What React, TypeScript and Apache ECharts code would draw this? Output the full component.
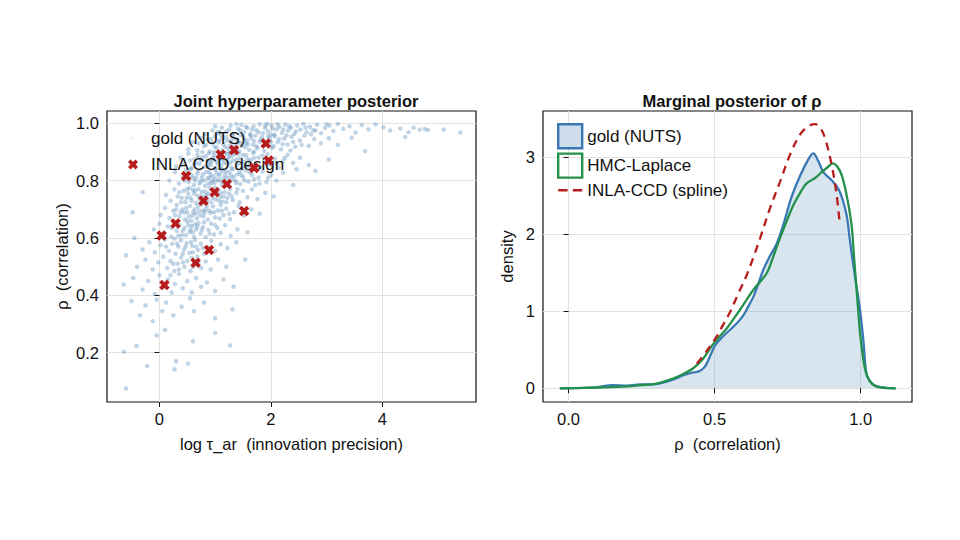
import React, { useEffect, useRef } from "react";
import * as echarts from "echarts";

// Posterior draws of (log tau_ar, rho) from the NUTS reference run
const goldDraws: [number, number][] = [
  // rho near the upper boundary, long tail in log tau
  [0.82,0.962],[0.95,0.975],[1.05,0.968],[1.12,0.985],[1.2,0.971],[1.28,0.992],[1.33,0.964],[1.41,0.981],[1.47,0.995],[1.52,0.969],
  [1.58,0.984],[1.63,0.962],[1.69,0.99],[1.74,0.976],[1.8,0.997],[1.86,0.965],[1.9,0.983],[1.95,0.972],[2.01,0.993],[2.06,0.961],
  [2.1,0.979],[2.15,0.988],[2.2,0.967],[2.26,0.996],[2.31,0.975],[2.36,0.985],[2.42,0.963],[2.47,0.992],[2.53,0.978],[2.58,0.998],
  [2.64,0.969],[2.7,0.987],[2.76,0.976],[2.83,0.995],[2.9,0.966],[2.97,0.984],[3.05,0.992],[3.12,0.973],[3.2,0.998],[3.3,0.981],
  [3.41,0.99],[3.52,0.968],[3.63,0.994],[3.75,0.979],[3.88,0.996],[4.02,0.986],[4.14,0.975],[4.32,0.982],[4.41,0.952],[4.47,0.969],
  [4.56,0.985],[4.67,0.978],[4.76,0.98],[4.82,0.977],[5.1,0.978],[5.4,0.968],[1.0,0.99],[1.38,0.998],[1.66,0.978],[2.12,0.997],
  [2.45,0.972],[1.9,0.992],[2.72,0.962],[3.0,0.997],
  [1.08,0.97],[1.25,0.978],[1.55,0.988],[1.78,0.968],[2.03,0.982],[2.33,0.99],[2.62,0.985],[1.45,0.975],[1.93,0.998],[2.22,0.979],
  [2.8,0.975],
  // rho 0.90 - 0.96
  [0.52,0.91],[0.6,0.935],[0.68,0.905],[0.74,0.95],[0.8,0.92],[0.86,0.943],[0.9,0.902],[0.95,0.93],[1.0,0.955],[1.03,0.915],
  [1.08,0.94],[1.12,0.905],[1.15,0.927],[1.2,0.952],[1.24,0.912],[1.28,0.938],[1.31,0.958],[1.35,0.921],[1.39,0.945],[1.43,0.903],
  [1.46,0.932],[1.5,0.955],[1.54,0.917],[1.57,0.94],[1.61,0.908],[1.65,0.948],[1.68,0.925],[1.72,0.957],[1.76,0.913],[1.8,0.936],
  [1.84,0.951],[1.88,0.904],[1.92,0.929],[1.97,0.946],[2.02,0.915],[2.07,0.955],[2.12,0.934],[2.18,0.909],[2.24,0.947],[2.3,0.926],
  [2.37,0.953],[2.44,0.918],[2.52,0.94],[2.6,0.957],[2.68,0.922],[2.78,0.945],[2.9,0.93],[3.04,0.948],[3.2,0.925],[3.45,0.95],
  [3.69,0.903],[1.1,0.96],[1.45,0.96],[1.7,0.902],[2.0,0.96],[1.26,0.9],[0.98,0.9],[2.35,0.905],[1.55,0.93],
  [0.7,0.93],[0.77,0.9],[0.84,0.925],[0.93,0.945],[0.99,0.918],[1.06,0.933],[1.13,0.948],[1.18,0.918],[1.22,0.94],[1.27,0.925],
  [1.33,0.947],[1.37,0.91],[1.41,0.932],[1.48,0.922],[1.52,0.945],[1.59,0.927],[1.63,0.958],[1.7,0.938],[1.74,0.92],[1.82,0.943],
  [1.86,0.922],[1.95,0.956],[2.0,0.935],[2.05,0.92],[2.15,0.945],[2.21,0.928],[2.28,0.958],[2.4,0.935],[2.55,0.925],
  // rho 0.84 - 0.90
  [0.3,0.85],[0.38,0.88],[0.45,0.86],[0.52,0.895],[0.58,0.845],[0.63,0.875],[0.68,0.89],[0.72,0.858],[0.77,0.882],[0.81,0.848],
  [0.85,0.87],[0.89,0.895],[0.92,0.855],[0.96,0.878],[1.0,0.843],[1.03,0.866],[1.07,0.89],[1.1,0.852],[1.14,0.874],[1.18,0.897],
  [1.21,0.86],[1.25,0.883],[1.29,0.845],[1.32,0.869],[1.36,0.892],[1.4,0.856],[1.44,0.878],[1.48,0.842],[1.52,0.865],[1.56,0.888],
  [1.6,0.851],[1.64,0.873],[1.68,0.896],[1.73,0.858],[1.78,0.881],[1.83,0.847],[1.88,0.87],[1.94,0.892],[2.0,0.855],[2.07,0.877],
  [2.14,0.846],[2.22,0.869],[2.3,0.89],[2.4,0.862],[2.52,0.88],[2.68,0.855],[2.8,0.834],[3.04,0.874],[2.46,0.84],[0.9,0.865],
  [1.12,0.84],[1.34,0.9],[1.58,0.875],[0.75,0.87],[1.22,0.875],[0.62,0.858],[1.95,0.86],[1.42,0.895],
  [0.55,0.87],[0.66,0.862],[0.7,0.88],[0.83,0.885],[0.87,0.852],[0.98,0.888],[1.05,0.858],[1.16,0.862],[1.23,0.893],[1.27,0.862],
  [1.38,0.872],[1.46,0.86],[1.5,0.89],[1.62,0.863],[1.7,0.88],[1.76,0.845],[1.85,0.888],[1.98,0.872],[2.1,0.86],[2.25,0.88],
  [0.94,0.868],[1.08,0.876],[1.3,0.885],[1.54,0.85],
  // rho 0.78 - 0.84
  [0.18,0.8],[0.28,0.83],[0.35,0.79],[0.42,0.815],[0.48,0.838],[0.53,0.795],[0.58,0.82],[0.62,0.785],[0.66,0.81],[0.7,0.835],
  [0.74,0.798],[0.78,0.822],[0.82,0.782],[0.86,0.808],[0.9,0.83],[0.93,0.792],[0.97,0.815],[1.01,0.838],[1.05,0.8],[1.09,0.825],
  [1.12,0.785],[1.16,0.81],[1.2,0.833],[1.24,0.795],[1.28,0.818],[1.32,0.84],[1.36,0.8],[1.4,0.823],[1.45,0.788],[1.5,0.812],
  [1.55,0.835],[1.6,0.797],[1.66,0.82],[1.72,0.785],[1.78,0.81],[1.85,0.832],[1.92,0.795],[2.0,0.82],[2.1,0.8],[2.22,0.828],
  [2.4,0.785],[0.56,0.84],[0.88,0.79],[1.14,0.835],[1.44,0.83],[0.76,0.81],[1.0,0.805],[1.3,0.805],[0.64,0.8],[1.07,0.815],
  [0.95,0.8],
  [0.45,0.8],[0.5,0.825],[0.6,0.81],[0.68,0.825],[0.72,0.79],[0.8,0.8],[0.84,0.83],[0.92,0.82],[0.99,0.792],[1.03,0.825],
  [1.1,0.8],[1.18,0.822],[1.22,0.81],[1.26,0.83],[1.34,0.815],[1.38,0.792],[1.47,0.82],[1.53,0.8],[1.62,0.83],[1.7,0.805],
  [1.8,0.79],[1.95,0.81],[0.9,0.81],[1.15,0.795],
  // rho 0.72 - 0.78
  [0.12,0.75],[0.2,0.73],[0.27,0.77],[0.33,0.745],[0.39,0.725],[0.44,0.765],[0.49,0.74],[0.54,0.775],[0.58,0.73],[0.62,0.755],
  [0.66,0.722],[0.7,0.77],[0.74,0.745],[0.78,0.728],[0.82,0.762],[0.86,0.738],[0.9,0.775],[0.93,0.725],[0.97,0.752],[1.01,0.735],
  [1.05,0.77],[1.09,0.744],[1.13,0.727],[1.17,0.76],[1.22,0.74],[1.27,0.772],[1.32,0.732],[1.38,0.757],[1.44,0.725],[1.5,0.765],
  [1.58,0.742],[1.66,0.77],[1.76,0.735],[1.9,0.758],[2.05,0.745],[0.47,0.725],[0.68,0.748],[0.88,0.755],[1.0,0.775],[1.2,0.725],
  [0.6,0.768],[0.8,0.742],[1.1,0.758],[0.36,0.76],[-0.3,0.76],
  [0.4,0.74],[0.52,0.755],[0.56,0.74],[0.64,0.765],[0.72,0.735],[0.76,0.76],[0.84,0.75],[0.95,0.74],[1.03,0.755],[1.07,0.73],
  [1.15,0.745],[1.25,0.755],[1.3,0.745],[1.4,0.77],[0.5,0.77],[0.85,0.728],
  // rho 0.66 - 0.72
  [0.02,0.68],[0.1,0.705],[0.18,0.67],[0.25,0.695],[0.31,0.715],[0.36,0.675],[0.41,0.7],[0.46,0.665],[0.5,0.69],[0.55,0.712],
  [0.59,0.678],[0.63,0.7],[0.67,0.668],[0.71,0.695],[0.75,0.717],[0.79,0.675],[0.83,0.7],[0.87,0.664],[0.92,0.688],[0.96,0.71],
  [1.0,0.672],[1.05,0.696],[1.1,0.715],[1.15,0.68],[1.2,0.702],[1.27,0.666],[1.34,0.69],[1.42,0.712],[1.52,0.678],[1.65,0.7],
  [1.8,0.685],[0.44,0.69],[0.65,0.685],[0.85,0.712],[0.57,0.66],[0.78,0.695],[0.28,0.68],[1.08,0.668],[-0.48,0.69],
  [0.3,0.7],[0.38,0.69],[0.48,0.705],[0.53,0.675],[0.61,0.69],[0.69,0.71],[0.73,0.68],[0.81,0.688],[0.89,0.695],[0.98,0.69],
  [1.12,0.695],[1.25,0.685],
  // rho 0.60 - 0.66
  [-0.1,0.63],[0.0,0.65],[0.08,0.615],[0.15,0.64],[0.21,0.605],[0.26,0.655],[0.31,0.625],[0.36,0.645],[0.4,0.61],[0.45,0.635],
  [0.5,0.658],[0.54,0.62],[0.58,0.642],[0.62,0.605],[0.66,0.63],[0.7,0.652],[0.74,0.615],[0.78,0.638],[0.83,0.603],[0.88,0.628],
  [0.93,0.65],[0.98,0.612],[1.04,0.635],[1.1,0.618],[1.18,0.645],[1.28,0.608],[1.4,0.63],[1.58,0.62],[0.47,0.61],[0.64,0.648],
  [0.34,0.608],[0.8,0.655],[0.56,0.63],[-0.45,0.6],
  [0.22,0.635],[0.33,0.64],[0.42,0.625],[0.52,0.645],[0.6,0.62],[0.68,0.64],[0.76,0.628],[0.9,0.615],[1.0,0.645],
  // rho 0.54 - 0.60
  [-0.3,0.56],[-0.18,0.585],[-0.08,0.55],[0.02,0.575],[0.1,0.595],[0.17,0.555],[0.23,0.58],[0.29,0.545],[0.34,0.57],[0.39,0.592],
  [0.44,0.56],[0.49,0.582],[0.54,0.548],[0.59,0.572],[0.64,0.594],[0.69,0.558],[0.74,0.58],[0.8,0.545],[0.86,0.568],[0.93,0.59],
  [1.0,0.555],[1.1,0.578],[1.22,0.565],[1.38,0.585],[0.42,0.545],[0.6,0.55],[0.27,0.598],[-0.6,0.54],
  [0.12,0.57],[0.32,0.58],[0.47,0.57],[0.57,0.585],[0.66,0.57],[0.78,0.565],
  // rho 0.48 - 0.54
  [-0.4,0.5],[-0.25,0.525],[-0.12,0.49],[-0.02,0.515],[0.07,0.535],[0.14,0.495],[0.2,0.52],[0.27,0.485],[0.33,0.51],[0.39,0.532],
  [0.45,0.5],[0.5,0.52],[0.56,0.485],[0.62,0.51],[0.68,0.535],[0.75,0.495],[0.83,0.518],[0.92,0.49],[1.05,0.525],[1.2,0.5],
  [1.54,0.525],[0.35,0.49],[0.58,0.53],[0.25,0.51],[0.42,0.515],[0.6,0.5],[0.7,0.515],
  // rho 0.40 - 0.48
  [-0.64,0.438],[-0.47,0.46],[-0.3,0.42],[-0.2,0.45],[-0.08,0.405],[0.0,0.47],[0.08,0.43],[0.15,0.455],[0.22,0.41],[0.28,0.44],
  [0.35,0.475],[0.42,0.425],[0.5,0.45],[0.58,0.41],[0.66,0.46],[0.75,0.43],[0.85,0.445],[1.0,0.415],[1.15,0.455],[1.33,0.43],
  [0.2,0.47],
  // rho 0.30 - 0.40
  [-0.5,0.38],[-0.35,0.33],[-0.25,0.365],[-0.12,0.31],[-0.05,0.385],[0.05,0.345],[0.12,0.375],[0.25,0.33],[0.4,0.36],[0.55,0.39],
  [0.62,0.345],[0.8,0.375],[1.31,0.351],[1.0,0.32],
  // low-rho stragglers
  [-0.64,0.203],[-0.41,0.224],[-0.22,0.153],[0.27,0.142],[0.515,0.162],[1.27,0.225],[1.0,0.269],[-0.6,0.075],[0.3,0.17],
  [-0.05,0.26],[0.1,0.28],[0.6,0.24],
];

// INLA central composite design points (log tau_ar, rho)
const ccdPoints: [number, number][] = [
  [1.91,0.93],[1.34,0.907],[1.1,0.891],[1.96,0.87],[1.7,0.844],[0.48,0.816],[1.21,0.788],[0.99,0.76],
  [0.79,0.73],[1.52,0.694],[0.29,0.651],[0.04,0.609],[0.89,0.558],[0.65,0.514],[0.09,0.436],
];

// Marginal densities of rho
const goldDensity: [number, number][] = [
  [-0.03,0],[0.05,0.005],[0.1,0.015],[0.15,0.04],[0.2,0.035],[0.245,0.05],[0.3,0.055],[0.336,0.086],[0.37,0.13],
  [0.393,0.17],[0.42,0.2],[0.445,0.22],[0.462,0.26],[0.473,0.32],[0.487,0.44],[0.502,0.56],[0.525,0.66],[0.553,0.76],
  [0.58,0.86],[0.599,0.95],[0.615,1.06],[0.633,1.19],[0.65,1.36],[0.667,1.54],[0.69,1.72],[0.713,1.88],[0.735,2.12],
  [0.758,2.42],[0.775,2.6],[0.792,2.75],[0.815,2.93],[0.838,3.05],[0.855,2.95],[0.872,2.81],[0.89,2.74],[0.906,2.68],
  [0.929,2.55],[0.952,2.25],[0.963,1.93],[0.975,1.6],[0.987,1.3],[0.998,1.02],[1.01,0.6],[1.02,0.19],[1.035,0.08],
  [1.055,0.03],[1.09,0.005],[1.12,0],
];

const hmcLaplaceDensity: [number, number][] = [
  [-0.03,0],[0.05,0.005],[0.1,0.01],[0.2,0.025],[0.245,0.04],[0.3,0.06],[0.36,0.13],[0.4,0.2],[0.427,0.26],[0.46,0.38],
  [0.496,0.58],[0.542,0.78],[0.587,1.02],[0.633,1.28],[0.678,1.49],[0.7,1.7],[0.724,1.95],[0.75,2.2],[0.77,2.38],
  [0.795,2.55],[0.815,2.66],[0.844,2.73],[0.865,2.8],[0.884,2.86],[0.906,2.92],[0.92,2.88],[0.935,2.77],[0.952,2.51],
  [0.969,2.12],[0.977,1.73],[0.99,1.1],[1.0,0.65],[1.015,0.25],[1.03,0.1],[1.05,0.03],[1.08,0.005],[1.12,0],
];

const inlaSplineDensity: [number, number][] = [
  [0.439,0.32],[0.47,0.47],[0.507,0.67],[0.53,0.83],[0.553,0.99],[0.58,1.22],[0.61,1.47],[0.63,1.67],[0.656,1.95],
  [0.69,2.34],[0.724,2.68],[0.758,3.03],[0.792,3.29],[0.82,3.4],[0.844,3.43],[0.862,3.38],[0.878,3.25],[0.901,2.9],
  [0.918,2.51],[0.929,2.12],
];

const leftXTicks = [0, 2, 4];
const leftYTicks = [0.2, 0.4, 0.6, 0.8, 1.0];
const rightXTicks = [0, 0.5, 1.0];
const rightYTicks = [0, 1, 2, 3];

const FONT = "'Liberation Sans', Arial, Helvetica, sans-serif";
const INK = "#111111";
const BLUE = "#3a78b5";
const GREEN = "#23914a";
const RED = "#b71c1c";
const XMARK = "path://M2.6,0 L5,2.4 L7.4,0 L10,2.6 L7.6,5 L10,7.4 L7.4,10 L5,7.6 L2.6,10 L0,7.4 L2.4,5 L0,2.6 Z";
const DASHES = "path://M0,0 L9,0 L9,2.4 L0,2.4 Z M14,0 L23,0 L23,2.4 L14,2.4 Z";
const FS = 16.5;

function axisCommon(ticks: number[], digits: number) {
  return {
    axisLine: { show: false },
    axisTick: { show: true, length: 5, inside: false, customValues: ticks, lineStyle: { color: INK, width: 1 } },
    axisLabel: {
      customValues: ticks,
      fontSize: FS,
      color: INK,
      fontFamily: FONT,
      formatter: (v: number) => v.toFixed(digits),
    },
    splitLine: { show: true, lineStyle: { color: "#e3e3e3", width: 1 } },
    nameTextStyle: { fontSize: FS, color: INK, fontFamily: FONT },
  };
}

export default function App() {
  const ref = useRef<HTMLDivElement>(null);

  useEffect(() => {
    if (!ref.current) return;
    const chart = echarts.init(ref.current, undefined, { renderer: "svg" });
    chart.setOption({
      animation: false,
      backgroundColor: "#ffffff",
      textStyle: { fontFamily: FONT },
      title: [
        {
          text: "Joint hyperparameter posterior",
          left: 291, top: 87, textAlign: "center",
          textStyle: { fontSize: FS, fontWeight: "bold", color: INK, fontFamily: FONT },
        },
        {
          text: "Marginal posterior of ρ",
          left: 727, top: 87, textAlign: "center",
          textStyle: { fontSize: FS, fontWeight: "bold", color: INK, fontFamily: FONT },
        },
      ],
      grid: [
        { left: 107, top: 111, width: 369, height: 291, show: true, borderColor: INK, borderWidth: 1.2, backgroundColor: "transparent" },
        { left: 543, top: 111, width: 369, height: 291, show: true, borderColor: INK, borderWidth: 1.2, backgroundColor: "transparent" },
      ],
      xAxis: [
        {
          ...axisCommon(leftXTicks, 0),
          gridIndex: 0, type: "value", min: -0.94, max: 5.68,
          name: "log τ_ar  (innovation precision)", nameLocation: "middle", nameGap: 33,
        },
        {
          ...axisCommon(rightXTicks, 1),
          gridIndex: 1, type: "value", min: -0.0876, max: 1.176,
          name: "ρ  (correlation)", nameLocation: "middle", nameGap: 33,
        },
      ],
      yAxis: [
        {
          ...axisCommon(leftYTicks, 1),
          gridIndex: 0, type: "value", min: 0.028, max: 1.043,
          name: "ρ  (correlation)", nameLocation: "middle", nameGap: 37,
        },
        {
          ...axisCommon(rightYTicks, 0),
          gridIndex: 1, type: "value", min: -0.178, max: 3.6,
          name: "density", nameLocation: "middle", nameGap: 28,
        },
      ],
      legend: [
        {
          data: [{ name: "gold (NUTS)", icon: "circle", itemStyle: { color: "rgba(70,130,180,0.35)" } }],
          orient: "vertical", left: 131, top: 130, padding: 0, itemWidth: 3, itemHeight: 3,
          selectedMode: false,
          textStyle: { fontSize: 17, color: INK, fontFamily: FONT, padding: [0, 0, 0, 12] },
        },
        {
          data: [{ name: "INLA CCD design", icon: XMARK, itemStyle: { color: RED, opacity: 1 } }],
          orient: "vertical", left: 128, top: 156, padding: 0, itemWidth: 10, itemHeight: 10,
          selectedMode: false,
          textStyle: { fontSize: 17, color: INK, fontFamily: FONT, padding: [0, 0, 0, 8] },
        },
        {
          data: [
            { name: "gold (NUTS)", icon: "rect", itemStyle: { color: "rgb(205,221,235)", borderColor: BLUE, borderWidth: 2.4, opacity: 1 } },
            { name: "HMC-Laplace", icon: "rect", itemStyle: { color: "rgba(255,255,255,0)", borderColor: GREEN, borderWidth: 2.4, opacity: 1 } },
            { name: "INLA-CCD (spline)", icon: DASHES, itemStyle: { color: RED, borderWidth: 0, opacity: 1 } },
          ],
          orient: "vertical", left: 557, top: 123, padding: 0, itemWidth: 24, itemHeight: 24, itemGap: 3,
          selectedMode: false, symbolKeepAspect: true,
          textStyle: { fontSize: 17, color: INK, fontFamily: FONT },
        },
      ],
      series: [
        {
          name: "gold (NUTS)", type: "scatter", xAxisIndex: 0, yAxisIndex: 0,
          data: goldDraws, symbol: "circle", symbolSize: 4.5,
          itemStyle: { color: "rgb(70,130,180)", opacity: 0.34 },
          silent: true,
        },
        {
          name: "INLA CCD design", type: "scatter", xAxisIndex: 0, yAxisIndex: 0,
          data: ccdPoints, symbol: XMARK, symbolSize: 10.5,
          itemStyle: { color: RED, opacity: 1 }, z: 5,
        },
        {
          name: "gold (NUTS)", type: "line", xAxisIndex: 1, yAxisIndex: 1,
          data: goldDensity, smooth: 0.35, showSymbol: false, symbol: "none",
          lineStyle: { color: BLUE, width: 2.3 },
          itemStyle: { color: BLUE },
          areaStyle: { color: "rgba(70,130,180,0.3)" },
        },
        {
          name: "HMC-Laplace", type: "line", xAxisIndex: 1, yAxisIndex: 1,
          data: hmcLaplaceDensity, smooth: 0.35, showSymbol: false, symbol: "none",
          lineStyle: { color: GREEN, width: 2.3 },
          itemStyle: { color: GREEN },
        },
        {
          name: "INLA-CCD (spline)", type: "line", xAxisIndex: 1, yAxisIndex: 1,
          data: inlaSplineDensity, smooth: 0.35, showSymbol: false, symbol: "none",
          lineStyle: { color: RED, width: 2.3, type: [8, 6] },
          itemStyle: { color: RED },
        },
      ],
    });
    return () => chart.dispose();
  }, []);

  return (
    <div
      ref={ref}
      style={{ position: "fixed", left: 0, top: 0, width: 960, height: 540, background: "#fff" }}
    />
  );
}
